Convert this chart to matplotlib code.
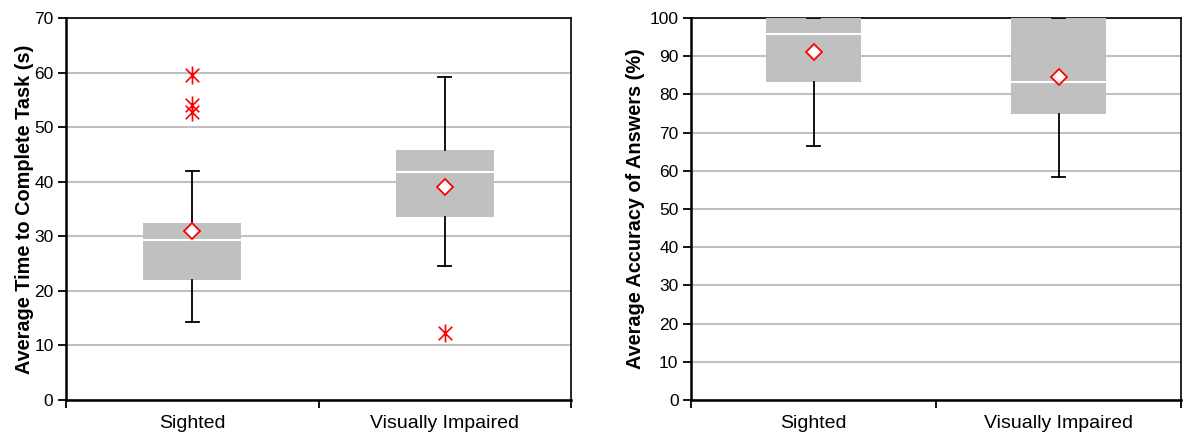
# -*- coding: utf-8 -*-
# box plots of time and accuracy, sighted vs visually impaired
import matplotlib
matplotlib.use("Agg")
import matplotlib.pyplot as plt
from matplotlib.path import Path

plt.rcParams['font.family'] = ['Liberation Sans', 'DejaVu Sans']

groups = ["Sighted", "Visually Impaired"]

# time to complete task (s)
time_whislo = [14.3, 24.5]
time_q1 = [22.0, 33.5]
time_med = [29.3, 41.8]
time_q3 = [32.4, 45.8]
time_whishi = [42.0, 59.2]
time_mean = [31.0, 39.0]
time_fliers = [[59.5, 54.1, 52.8], [12.2]]

# accuracy of answers (%)
acc_whislo = [66.5, 58.3]
acc_q1 = [83.3, 74.8]
acc_med = [95.7, 83.2]
acc_q3 = [100.0, 100.0]
acc_whishi = [100.0, 100.0]
acc_mean = [91.2, 84.6]
acc_fliers = [[], []]

# excel style asterisk: vertical bar + x
star = Path([(0, -1), (0, 1), (-0.75, -0.75), (0.75, 0.75), (-0.75, 0.75), (0.75, -0.75)],
            [Path.MOVETO, Path.LINETO, Path.MOVETO, Path.LINETO, Path.MOVETO, Path.LINETO])


def MakeStats(whislo, q1, med, q3, whishi, mean, fliers):
    stats = list()
    for i in range(len(groups)):
        stats.append(dict(whislo = whislo[i], q1 = q1[i], med = med[i], q3 = q3[i],
                          whishi = whishi[i], mean = mean[i], fliers = fliers[i],
                          label = groups[i]))
    return stats


def DrawBoxes(ax, stats, ymax, ylabel, labelpad):
    pos = list(range(len(groups)))
    ax.bxp(stats, positions = pos, widths = 0.39, patch_artist = True,
           showmeans = True, showfliers = True, capwidths = 0.05,
           boxprops = dict(facecolor = '#c0c0c0', edgecolor = 'none'),
           medianprops = dict(color = 'white', linewidth = 1.5),
           whiskerprops = dict(color = 'black', linewidth = 1.3),
           capprops = dict(color = 'black', linewidth = 1.3),
           meanprops = dict(marker = 'D', markerfacecolor = 'white', markeredgecolor = 'red',
                            markersize = 8, markeredgewidth = 1.3),
           flierprops = dict(marker = star, markeredgecolor = 'red', markerfacecolor = 'none',
                             markersize = 13, markeredgewidth = 1.2, linestyle = 'none'),
           zorder = 3)
    ax.set_xlim(-0.5, len(groups) - 0.5)
    ax.set_ylim(0, ymax)
    ax.set_yticks(range(0, ymax + 1, 10))
    ax.yaxis.grid(True, color = '#c0c0c0', linewidth = 1.5, zorder = 0)
    ax.set_axisbelow(True)
    ax.set_xticks(pos)
    ax.set_xticklabels(groups, fontsize = 14)
    ax.set_xticks([p - 0.5 for p in pos] + [len(groups) - 0.5], minor = True)
    ax.tick_params(axis = 'x', which = 'major', length = 0, pad = 11)
    ax.tick_params(axis = 'x', which = 'minor', length = 6, width = 1.3, direction = 'out')
    ax.tick_params(axis = 'y', length = 6, width = 1.3, direction = 'out', labelsize = 12.5, pad = 3)
    for side in ['left', 'bottom']:
        ax.spines[side].set_linewidth(1.8)
    for side in ['top', 'right']:
        ax.spines[side].set_linewidth(1.2)
    ax.set_ylabel(ylabel, fontsize = 14.3, fontweight = 'bold', labelpad = labelpad)


def main():
    fig = plt.figure(figsize = (11.88, 4.41), dpi = 100)
    ax1 = fig.add_axes([66 / 1188, 41 / 441, 505 / 1188, 382 / 441])
    ax2 = fig.add_axes([691 / 1188, 41 / 441, 490 / 1188, 382 / 441])

    DrawBoxes(ax1, MakeStats(time_whislo, time_q1, time_med, time_q3, time_whishi, time_mean, time_fliers),
              70, "Average Time to Complete Task (s)", 0)
    DrawBoxes(ax2, MakeStats(acc_whislo, acc_q1, acc_med, acc_q3, acc_whishi, acc_mean, acc_fliers),
              100, "Average Accuracy of Answers (%)", 3)

    fig.savefig("out.png", dpi = 100)


if __name__ == "__main__":
    main()
